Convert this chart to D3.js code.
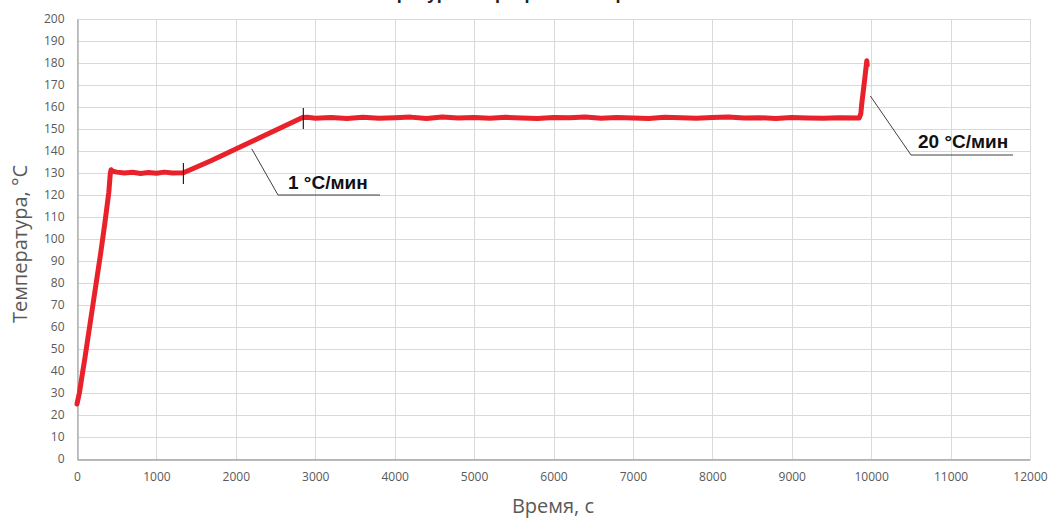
<!DOCTYPE html>
<html>
<head>
<meta charset="utf-8">
<script src="https://cdn.jsdelivr.net/npm/d3@7"></script>
<style>
    body { margin: 0; background: #fff; }
    svg { display: block; }
</style>
</head>
<body>
<svg></svg>
<script>
// time values (s)
let times = [0, 30, 60, 100, 150, 200, 250, 300, 350, 400, 420, 430, 450, 500, 600, 700, 800, 900, 1000, 1100, 1200, 1340,
             1500, 1700, 1900, 2100, 2300, 2500, 2700, 2840, 2900, 3000, 3200, 3400, 3600, 3800, 4000, 4200, 4400, 4600,
             4800, 5000, 5200, 5400, 5600, 5800, 6000, 6200, 6400, 6600, 6800, 7000, 7200, 7400, 7600, 7800, 8000,
             8200, 8400, 8600, 8800, 9000, 9200, 9400, 9600, 9850, 9870, 9880, 9900, 9920, 9935, 9945, 9950]
// temperature values (°C)
let temps = [25, 30, 37, 46, 58, 70, 82, 94, 107, 121, 130, 131.5, 130.8, 130.4, 130, 130.3, 129.8, 130.2, 129.9, 130.4, 130, 130.1,
             132.6, 135.8, 139.2, 142.6, 146, 149.4, 152.8, 155.2, 155.3, 154.9, 155.2, 154.8, 155.3, 154.9, 155.1, 155.4, 154.8, 155.5,
             155, 155.2, 154.9, 155.3, 155, 154.8, 155.2, 155.1, 155.5, 154.9, 155.2, 155, 154.8, 155.3, 155.1, 154.9, 155.2,
             155.4, 155, 155.1, 154.8, 155.2, 155, 154.9, 155.1, 155, 157, 161, 167, 173, 178, 181, 179]

let xTicks = d3.range(0, 12001, 1000)
let yTicks = d3.range(0, 201, 10)

// boundaries of the ramp sections, marked with short black strokes
let marks = [[1340, 130], [2850, 155]]

// annotations: text, leader start point (data units), elbow and end (pixels)
let notes = [
    { text: '1 °C/мин', from: [2200, 141], elbow: [278, 195], end: [380, 195], tx: 288, ty: 189 },
    { text: '20 °C/мин', from: [9990, 165], elbow: [911, 155], end: [1013, 155], tx: 918, ty: 148 }
]

let width = 1057
let height = 518

let plotLeft = 77
let plotRight = 1030
let plotTop = 19
let plotBottom = 459

let svg = d3.select('svg')
    .attr('width', width)
    .attr('height', height)

let xScale = d3.scaleLinear().domain([0, 12000]).range([plotLeft, plotRight])
let yScale = d3.scaleLinear().domain([0, 200]).range([plotBottom, plotTop])

// title, almost completely cut off by the top edge
svg.append('text')
   .attr('x', 500)
   .attr('y', -1)
   .attr('text-anchor', 'middle')
   .style('font', 'bold 18px "Liberation Sans", Arial, sans-serif')
   .style('fill', '#222')
   .text('Температурная программа нагрева')

// grid lines
svg.append('g')
   .selectAll('line')
   .data(yTicks)
   .enter()
   .append('line')
   .attr('x1', plotLeft)
   .attr('x2', plotRight)
   .attr('y1', (d) => Math.round(yScale(d)) + 0.5)
   .attr('y2', (d) => Math.round(yScale(d)) + 0.5)
   .attr('stroke', '#d9d9d9')

svg.append('g')
   .selectAll('line')
   .data(xTicks)
   .enter()
   .append('line')
   .attr('y1', plotTop)
   .attr('y2', plotBottom)
   .attr('x1', (d) => Math.round(xScale(d)) + 0.5)
   .attr('x2', (d) => Math.round(xScale(d)) + 0.5)
   .attr('stroke', '#d9d9d9')

// axes
let xAxis = d3.axisBottom(xScale).tickValues(xTicks).tickSize(0).tickPadding(13).tickFormat(d3.format('d'))
let yAxis = d3.axisLeft(yScale).tickValues(yTicks).tickSize(0).tickPadding(13)

let gx = svg.append('g')
    .attr('transform', 'translate(0,' + (plotBottom + 0.5) + ')')
    .call(xAxis)
let gy = svg.append('g')
    .attr('transform', 'translate(' + (plotLeft + 0.5) + ',0)')
    .call(yAxis)

;[gx, gy].forEach((g) => {
    g.select('.domain').attr('stroke', '#a6a6a6').attr('stroke-width', 1.3)
    g.selectAll('text')
     .style('font', '12px "Open Sans", sans-serif')
     .style('fill', '#595959')
})

// axis titles
svg.append('text')
   .attr('x', 553)
   .attr('y', 513)
   .attr('text-anchor', 'middle')
   .style('font', '20px "Open Sans", sans-serif')
   .style('fill', '#595959')
   .text('Время, с')

svg.append('text')
   .attr('transform', 'translate(27,244) rotate(-90)')
   .attr('text-anchor', 'middle')
   .style('font', '20px "Open Sans", sans-serif')
   .style('fill', '#595959')
   .text('Температура, °C')

// temperature curve
let points = times.map((t, i) => [t, temps[i]])
let line = d3.line()
    .x((d) => xScale(d[0]))
    .y((d) => yScale(d[1]))

svg.append('path')
   .datum(points)
   .attr('d', line)
   .attr('fill', 'none')
   .attr('stroke', '#e8212b')
   .attr('stroke-width', 5)
   .attr('stroke-linejoin', 'round')
   .attr('stroke-linecap', 'round')

// section marks
svg.selectAll('line.mark')
   .data(marks)
   .enter()
   .append('line')
   .attr('class', 'mark')
   .attr('x1', (d) => xScale(d[0]))
   .attr('x2', (d) => xScale(d[0]))
   .attr('y1', (d) => yScale(d[1]) - 10)
   .attr('y2', (d) => yScale(d[1]) + 11)
   .attr('stroke', '#222')
   .attr('stroke-width', 1.2)

// annotations with leader lines
notes.forEach((n) => {
    svg.append('polyline')
       .attr('points', [[xScale(n.from[0]), yScale(n.from[1])], n.elbow, n.end].map((p) => p.join(',')).join(' '))
       .attr('fill', 'none')
       .attr('stroke', '#404040')
       .attr('stroke-width', 1)
    svg.append('text')
       .attr('x', n.tx)
       .attr('y', n.ty)
       .style('font', 'bold 19px "Liberation Sans", Arial, sans-serif')
       .style('fill', '#111')
       .text(n.text)
})
</script>
</body>
</html>
